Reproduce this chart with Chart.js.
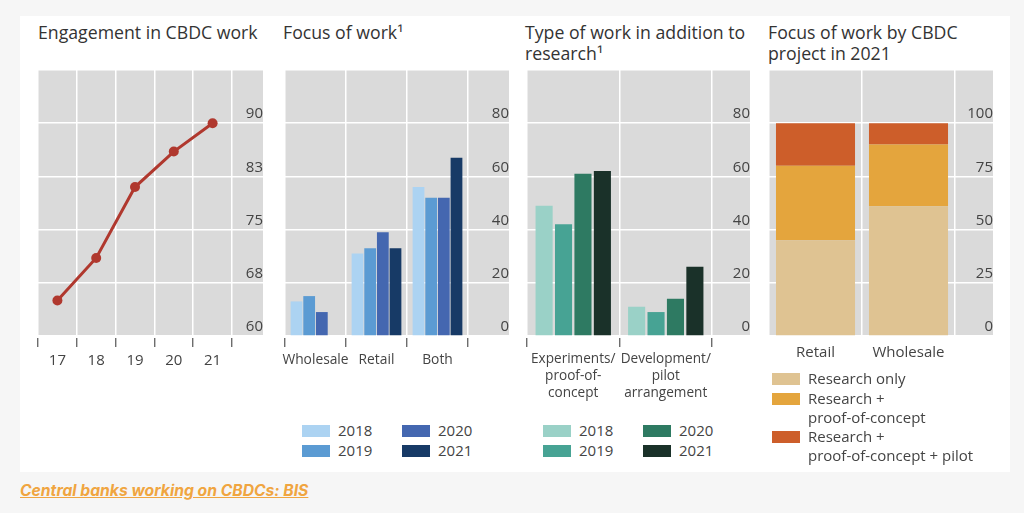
<!DOCTYPE html>
<html>
<head>
<meta charset="utf-8">
<script src="https://cdn.jsdelivr.net/npm/chart.js@4.4.1/dist/chart.umd.min.js"></script>
<style>
html,body{margin:0;padding:0;background:#f6f6f6;}
#page{position:relative;width:1024px;height:513px;overflow:hidden;font-family:"Open Sans",sans-serif;color:#333;background:#f6f6f6;}
#card{position:absolute;left:20px;top:16px;width:990px;height:456px;background:#fff;}
.title{position:absolute;top:22px;font-size:17.7px;line-height:21px;color:#333;white-space:nowrap;}
canvas{position:absolute;}
.lg{position:absolute;font-size:15px;line-height:19px;color:#444;white-space:nowrap;}
.lg .box{position:absolute;left:0;top:4px;width:28px;height:12px;}
.lg .txt{position:absolute;left:36px;top:0;}
#source{position:absolute;left:20px;top:482px;font-family:Inter,sans-serif;font-weight:700;font-style:italic;font-size:15.7px;line-height:18px;color:#f0a540;text-decoration:underline;white-space:nowrap;}
</style>
</head>
<body>
<div id="page">
  <div id="card"></div>
  <div class="title" style="left:38px">Engagement in CBDC work</div>
  <div class="title" style="left:283px">Focus of work¹</div>
  <div class="title" style="left:525px">Type of work in addition to<br>research¹</div>
  <div class="title" style="left:768px">Focus of work by CBDC<br>project in 2021</div>
  <canvas id="c1" width="249" height="330" style="left:26px;top:58px"></canvas>
  <canvas id="c2" width="248" height="330" style="left:273px;top:58px"></canvas>
  <canvas id="c3" width="247" height="360" style="left:515px;top:58px"></canvas>
  <canvas id="c4" width="248" height="330" style="left:757px;top:58px"></canvas>
  <div id="legends"></div>
  <div id="source">Central banks working on CBDCs: BIS</div>
</div>
<script>
// ---------------- DATA ----------------
const engagementYears = ['17', '18', '19', '20', '21'];
const engagementValues = [65, 71, 81, 86, 90];
const engagementTickLabels = ['60', '68', '75', '83', '90'];

const focusCategories = ['Wholesale', 'Retail', 'Both'];
const focusYears = ['2018', '2019', '2020', '2021'];
const focus2018 = [13, 31, 56];
const focus2019 = [15, 33, 52];
const focus2020 = [9, 39, 52];
const focus2021 = [null, 33, 67];
const focusTickLabels = ['0', '20', '40', '60', '80'];

const typeCategories = [['Experiments/', 'proof-of-', 'concept'], ['Development/', 'pilot', 'arrangement']];
const typeYears = ['2018', '2019', '2020', '2021'];
const type2018 = [49, 11];
const type2019 = [42, 9];
const type2020 = [61, 14];
const type2021 = [62, 26];
const typeTickLabels = ['0', '20', '40', '60', '80'];

const projectCategories = ['Retail', 'Wholesale'];
const projectSeriesNames = ['Research only', 'Research +\nproof-of-concept', 'Research +\nproof-of-concept + pilot'];
const researchOnly = [45, 61];
const researchPoc = [35, 29];
const researchPocPilot = [20, 10];
const projectTickLabels = ['0', '25', '50', '75', '100'];

// ---------------- STYLE ----------------
const GREY = '#dadada';
const FONT = '"Open Sans", sans-serif';
const TICK_COLOR = '#444';
const blueColors = ['#acd3f2', '#5b9bd3', '#4467b0', '#173a66'];
const greenColors = ['#9ad1c7', '#47a394', '#2e7a62', '#1a3129'];
const orangeColors = ['#dfc392', '#e4a53d', '#cd5e2a'];

const measureCtx = document.createElement('canvas').getContext('2d');
function textWidth(t, size) {
  measureCtx.font = size + 'px ' + FONT;
  return measureCtx.measureText(t).width;
}

const greyBg = {
  id: 'greyBg',
  beforeDraw(chart) {
    const a = chart.chartArea, y = chart.scales.y, ctx = chart.ctx;
    ctx.save();
    ctx.fillStyle = GREY;
    ctx.fillRect(a.left, a.top, y.right - a.left, a.bottom - a.top);
    ctx.restore();
  }
};

function yAxis(min, max, step, labels, axisW, stacked) {
  const widest = Math.max(...labels.map(l => textWidth(l, 15)));
  return {
    type: 'linear', position: 'right', min: min, max: max, stacked: !!stacked,
    afterFit(s) { s.width = axisW; },
    border: { display: false },
    grid: { color: '#ffffff', lineWidth: 1.5, drawTicks: true, tickLength: axisW, tickColor: '#ffffff', tickWidth: 1.5 },
    ticks: {
      stepSize: step, crossAlign: 'far', padding: -(4 + widest), labelOffset: -9,
      color: TICK_COLOR, font: { family: FONT, size: 15 },
      callback: (v, i) => (labels[i] !== undefined ? labels[i] : '')
    }
  };
}

function xAxis(h, drawTicks, fontSize, stacked) {
  return {
    type: 'category', offset: true, stacked: !!stacked,
    afterFit(s) { s.height = h; },
    border: { display: false },
    grid: {
      offset: true, color: '#ffffff', lineWidth: 1.5,
      drawTicks: drawTicks, tickLength: drawTicks ? 11 : 0, tickColor: '#555', tickWidth: 1.2,
      tickBorderDash: [0, 2, 9, 60]
    },
    ticks: {
      color: TICK_COLOR, padding: drawTicks ? 4 : 7, maxRotation: 0, autoSkip: false,
      font: { family: FONT, size: fontSize, lineHeight: 1.25 }
    }
  };
}

const baseOptions = {
  responsive: false, animation: false,
  layout: { padding: 12 },
  plugins: { legend: { display: false }, tooltip: { enabled: false } }
};

// Panel 1: line
new Chart(document.getElementById('c1'), {
  type: 'line',
  data: {
    labels: engagementYears,
    datasets: [{
      data: engagementValues, borderColor: '#b0382e', backgroundColor: '#b0382e',
      borderWidth: 3, pointRadius: 5, pointBackgroundColor: '#b0382e', pointBorderWidth: 0, tension: 0
    }]
  },
  options: Object.assign({}, baseOptions, {
    scales: { x: xAxis(40, true, 15), y: yAxis(60, 97.5, 7.5, engagementTickLabels, 31) }
  }),
  plugins: [greyBg]
});

// Panel 2: grouped bars (blue)
const focusSeries = [focus2018, focus2019, focus2020, focus2021];
new Chart(document.getElementById('c2'), {
  type: 'bar',
  data: {
    labels: focusCategories,
    datasets: focusSeries.map((d, i) => ({
      label: focusYears[i], data: d, backgroundColor: blueColors[i],
      categoryPercentage: 0.83, barPercentage: 0.93
    }))
  },
  options: Object.assign({}, baseOptions, {
    scales: { x: xAxis(40, true, 13.8), y: yAxis(0, 100, 20, focusTickLabels, 41) }
  }),
  plugins: [greyBg]
});

// Panel 3: grouped bars (green)
const typeSeries = [type2018, type2019, type2020, type2021];
new Chart(document.getElementById('c3'), {
  type: 'bar',
  data: {
    labels: typeCategories,
    datasets: typeSeries.map((d, i) => ({
      label: typeYears[i], data: d, backgroundColor: greenColors[i],
      categoryPercentage: 0.84, barPercentage: 0.88
    }))
  },
  options: Object.assign({}, baseOptions, {
    scales: { x: xAxis(70, true, 13.6), y: yAxis(0, 100, 20, typeTickLabels, 38) }
  }),
  plugins: [greyBg]
});

// Panel 4: stacked bars (orange)
const projectSeries = [researchOnly, researchPoc, researchPocPilot];
new Chart(document.getElementById('c4'), {
  type: 'bar',
  data: {
    labels: projectCategories,
    datasets: projectSeries.map((d, i) => ({
      label: projectSeriesNames[i], data: d, backgroundColor: orangeColors[i],
      categoryPercentage: 0.85, barPercentage: 1
    }))
  },
  options: Object.assign({}, baseOptions, {
    scales: { x: xAxis(40, false, 15, true), y: yAxis(0, 125, 25, projectTickLabels, 38, true) }
  }),
  plugins: [greyBg]
});

// ---------------- LEGENDS (HTML) ----------------
const legendRoot = document.getElementById('legends');
function addItem(x, y, color, text) {
  const d = document.createElement('div');
  d.className = 'lg';
  d.style.left = x + 'px';
  d.style.top = y + 'px';
  const b = document.createElement('span'); b.className = 'box'; b.style.background = color;
  const t = document.createElement('span'); t.className = 'txt';
  text.split('\n').forEach((line, k) => { if (k) t.appendChild(document.createElement('br')); t.appendChild(document.createTextNode(line)); });
  d.appendChild(b); d.appendChild(t);
  legendRoot.appendChild(d);
}
// two-column legends, filled column by column
function twoColLegend(x0, colGap, y0, rowGap, names, colors) {
  names.forEach((n, i) => {
    const col = Math.floor(i / 2), row = i % 2;
    addItem(x0 + col * colGap, y0 + row * rowGap, colors[i], n);
  });
}
twoColLegend(302, 100, 421, 20, focusYears, blueColors);
twoColLegend(543, 100, 421, 20, typeYears, greenColors);
const projTops = [369, 389, 427];
projectSeriesNames.forEach((n, i) => addItem(772, projTops[i], orangeColors[i], n));
</script>
</body>
</html>
